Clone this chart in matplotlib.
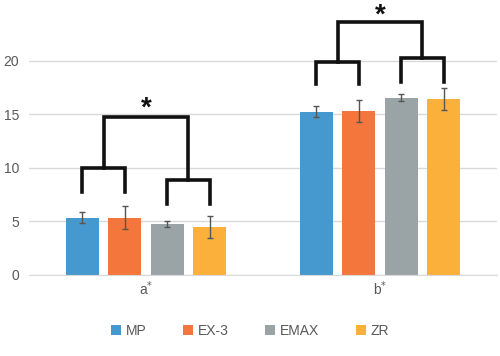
import matplotlib.pyplot as plt
import numpy as np

groups = ["a", "b"]
series = ["MP", "EX-3", "EMAX", "ZR"]
colors = ["#4599cf", "#f4763d", "#9aa4a7", "#fbb03b"]
values = {
    "MP": [5.33, 15.26],
    "EX-3": [5.35, 15.33],
    "EMAX": [4.73, 16.57],
    "ZR": [4.49, 16.42],
}
errors = {
    "MP": [0.5, 0.5],
    "EX-3": [1.05, 1.0],
    "EMAX": [0.27, 0.34],
    "ZR": [1.05, 1.04],
}

plt.rcParams["font.family"] = ["Liberation Sans", "DejaVu Sans"]
grey = "#595959"

fig = plt.figure(figsize=(5, 3.56), dpi=100)
ax = fig.add_axes([0.058, 0.228, 0.936, 0.772])

x = np.arange(len(groups))
width = 0.143
step = 0.1816
centers = {}
for i, s in enumerate(series):
    pos = x + (i - 1.5) * step
    centers[s] = pos
    ax.bar(pos, values[s], width, color=colors[i], label=s, zorder=2)
    ax.errorbar(pos, values[s], yerr=errors[s], fmt="none", ecolor="#555555",
                elinewidth=1, capsize=2.5, capthick=1, zorder=3)

ax.set_xlim(-0.5, 1.5)
ax.set_ylim(0, 25.7)
ax.set_yticks([0, 5, 10, 15, 20])
ax.yaxis.grid(True, color="#d9d9d9", lw=1, zorder=0)
ax.set_axisbelow(True)
for sp in ["top", "right", "left"]:
    ax.spines[sp].set_visible(False)
ax.spines["bottom"].set_color("#d9d9d9")
ax.tick_params(axis="both", length=0, colors=grey, labelsize=10)
ax.tick_params(axis="y", pad=7)
ax.set_xticks(x)
ax.set_xticklabels([g + "$^{*}$" for g in groups], color=grey)

# significance brackets: (left leg low, left bar, right leg low, right bar, top, star)
brackets = [
    (7.7, 10.0, 6.6, 8.9, 14.8, 15.5),
    (17.8, 19.93, 18.0, 20.3, 23.6, 24.2),
]
lw = 2.6
for g, (ll, lh, rl, rh, top, star) in enumerate(brackets):
    a, b, c, d = (centers[s][g] for s in series)
    ax.plot([a, a, b, b], [ll, lh, lh, ll], color="#111111", lw=lw, clip_on=False, zorder=4,
            solid_joinstyle="miter")
    ax.plot([c, c, d, d], [rl, rh, rh, rl], color="#111111", lw=lw, clip_on=False, zorder=4,
            solid_joinstyle="miter")
    m1 = (a + b) / 2
    m2 = (c + d) / 2
    ax.plot([m1, m1, m2, m2], [lh, top, top, rh], color="#111111", lw=lw, clip_on=False,
            zorder=4, solid_joinstyle="miter")
    ax.text((m1 + m2) / 2, star, "*", ha="center", va="center", fontsize=20,
            fontweight="bold", color="#111111")

fig.legend(loc="center", bbox_to_anchor=(0.5, 0.07), ncol=4, frameon=False,
           handlelength=0.75, handleheight=0.75, handletextpad=0.35, columnspacing=2.6,
           fontsize=10, labelcolor=grey)

fig.savefig("out.png", dpi=100)
